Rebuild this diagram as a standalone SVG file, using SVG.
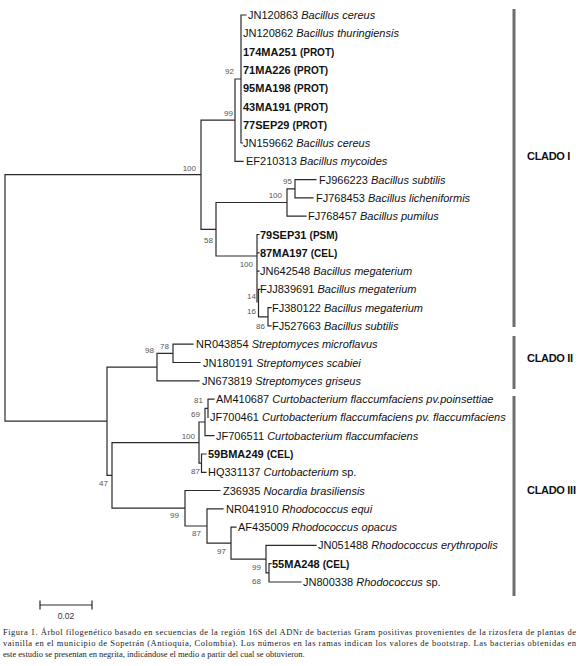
<svg xmlns="http://www.w3.org/2000/svg" width="579" height="666" viewBox="0 0 579 666">
<style>
.br{fill:none;stroke:#2a2a2a;stroke-width:1.2;stroke-linecap:square}
.t{font-family:"Liberation Sans",Arial,sans-serif;font-size:11px;fill:#111}
.i{font-style:italic}
.b{font-weight:bold}
.p{font-weight:bold;font-size:10px}
.bs{font-family:"Liberation Sans",Arial,sans-serif;font-size:8px;fill:#555;text-anchor:end}
.bar{stroke:#6e6e6e;stroke-width:3}
.cl{font-family:"Liberation Sans",Arial,sans-serif;font-size:11px;font-weight:bold;letter-spacing:-0.3px;fill:#111}
.cap{font-family:"Liberation Serif","Times New Roman",serif;font-size:8.5px;fill:#222}
</style>
<rect width="579" height="666" fill="#fff"/>
<g id="connectors">
<path class="br" d="M5,174.7V421.2M5,174.7H201M5,421.2H107
M201,120.2V229.3M201,120.2H235M201,229.3H216
M235,79V161.3M235,79H241M235,161.3H243
M241,15V143M241,15H246M241,143H242.5
M216,202.5V256M216,202.5H287M216,256H257
M287,188.8V216.2M287,188.8H295M287,216.2H306
M295,179.6V197.9M295,179.6H316M295,197.9H313
M257,234.5V302M257,234.5H259M257,252.8H259M257,271.1H259
M258.5,289.4V316.8M258.5,289.4H260M258.5,316.8H268
M268,307.6V325.9M268,307.6H271M268,325.9H271
M107,367.1V475.4M107,367.1H157M107,475.4H112
M157,353.4V380.8M157,353.4H173M157,380.8H199
M173,344.2V362.5M173,344.2H193M173,362.5H200
M112,442.6V508.2M112,442.6H199M112,508.2H185
M199,422V463.2M199,422H205M199,463.2H201.5
M205,408.3V435.7M205,408.3H208M205,435.7H214
M208,399.1V417.4M208,399.1H214
M201.5,454V472.3M201.5,454H206M201.5,472.3H206
M185,490.5V526M185,490.5H220M185,526H207
M207,508.8V543.1M207,508.8H223M207,543.1H231
M231,527.1V559.1M231,527.1H236M231,559.1H266
M266,545.4V572.8M266,545.4H316M266,572.8H269
M269,563.7V582M269,563.7H271M269,582H301"/>
</g>
<g id="bootstrap">
<text class="bs" x="196" y="171">100</text>
<text class="bs" x="233" y="116">99</text>
<text class="bs" x="234" y="74">92</text>
<text class="bs" x="292" y="184">95</text>
<text class="bs" x="282" y="198">100</text>
<text class="bs" x="213" y="243">58</text>
<text class="bs" x="253" y="267">100</text>
<text class="bs" x="256" y="299">14</text>
<text class="bs" x="256" y="314">16</text>
<text class="bs" x="265" y="329">86</text>
<text class="bs" x="154" y="353">98</text>
<text class="bs" x="169" y="349">78</text>
<text class="bs" x="203" y="403">81</text>
<text class="bs" x="200" y="417">69</text>
<text class="bs" x="195" y="439">100</text>
<text class="bs" x="200" y="474">87</text>
<text class="bs" x="108" y="486">47</text>
<text class="bs" x="179" y="518">99</text>
<text class="bs" x="201" y="536">87</text>
<text class="bs" x="226" y="554">97</text>
<text class="bs" x="261" y="570">99</text>
<text class="bs" x="261" y="584">68</text>
</g>
<g id="leaf-JN120863"><text class="t" x="248" y="19">JN120863 <tspan class="i">Bacillus cereus</tspan></text></g>
<g id="leaf-JN120862"><text class="t" x="243" y="37.3">JN120862 <tspan class="i">Bacillus thuringiensis</tspan></text></g>
<g id="leaf-174MA251"><text class="t" x="243" y="55.6"><tspan class="b">174MA251</tspan> <tspan class="p">(PROT)</tspan></text></g>
<g id="leaf-71MA226"><text class="t" x="243" y="73.9"><tspan class="b">71MA226</tspan> <tspan class="p">(PROT)</tspan></text></g>
<g id="leaf-95MA198"><text class="t" x="243" y="92.2"><tspan class="b">95MA198</tspan> <tspan class="p">(PROT)</tspan></text></g>
<g id="leaf-43MA191"><text class="t" x="243" y="110.5"><tspan class="b">43MA191</tspan> <tspan class="p">(PROT)</tspan></text></g>
<g id="leaf-77SEP29"><text class="t" x="243" y="128.7"><tspan class="b">77SEP29</tspan> <tspan class="p">(PROT)</tspan></text></g>
<g id="leaf-JN159662"><text class="t" x="243" y="147">JN159662 <tspan class="i">Bacillus cereus</tspan></text></g>
<g id="leaf-EF210313"><text class="t" x="246" y="165.3">EF210313 <tspan class="i">Bacillus mycoides</tspan></text></g>
<g id="leaf-FJ966223"><text class="t" x="319" y="183.6">FJ966223 <tspan class="i">Bacillus subtilis</tspan></text></g>
<g id="leaf-FJ768453"><text class="t" x="316" y="201.9">FJ768453 <tspan class="i">Bacillus licheniformis</tspan></text></g>
<g id="leaf-FJ768457"><text class="t" x="308" y="220.2">FJ768457 <tspan class="i">Bacillus pumilus</tspan></text></g>
<g id="leaf-79SEP31"><text class="t" x="260" y="238.5"><tspan class="b">79SEP31</tspan> <tspan class="p">(PSM)</tspan></text></g>
<g id="leaf-87MA197"><text class="t" x="260" y="256.8"><tspan class="b">87MA197</tspan> <tspan class="p">(CEL)</tspan></text></g>
<g id="leaf-JN642548"><text class="t" x="260" y="275.1">JN642548 <tspan class="i">Bacillus megaterium</tspan></text></g>
<g id="leaf-FJJ839691"><text class="t" x="260" y="293.4">FJJ839691 <tspan class="i">Bacillus megaterium</tspan></text></g>
<g id="leaf-FJ380122"><text class="t" x="272" y="311.6">FJ380122 <tspan class="i">Bacillus megaterium</tspan></text></g>
<g id="leaf-FJ527663"><text class="t" x="272" y="329.9">FJ527663 <tspan class="i">Bacillus subtilis</tspan></text></g>
<g id="leaf-NR043854"><text class="t" x="196" y="348.2">NR043854 <tspan class="i">Streptomyces microflavus</tspan></text></g>
<g id="leaf-JN180191"><text class="t" x="203" y="366.5">JN180191 <tspan class="i">Streptomyces scabiei</tspan></text></g>
<g id="leaf-JN673819"><text class="t" x="202" y="384.8">JN673819 <tspan class="i">Streptomyces  griseus</tspan></text></g>
<g id="leaf-AM410687"><text class="t" x="216" y="403.1">AM410687 <tspan class="i">Curtobacterium flaccumfaciens pv.poinsettiae</tspan></text></g>
<g id="leaf-JF700461"><text class="t" x="210" y="421.4">JF700461 <tspan class="i">Curtobacterium  flaccumfaciens pv. flaccumfaciens</tspan></text></g>
<g id="leaf-JF706511"><text class="t" x="216" y="439.7">JF706511 <tspan class="i">Curtobacterium flaccumfaciens</tspan></text></g>
<g id="leaf-59BMA249"><text class="t" x="208" y="458"><tspan class="b">59BMA249</tspan> <tspan class="p">(CEL)</tspan></text></g>
<g id="leaf-HQ331137"><text class="t" x="208" y="476.3">HQ331137 <tspan class="i">Curtobacterium</tspan> sp.</text></g>
<g id="leaf-Z36935"><text class="t" x="223" y="494.5">Z36935 <tspan class="i">Nocardia brasiliensis</tspan></text></g>
<g id="leaf-NR041910"><text class="t" x="226" y="512.8">NR041910 <tspan class="i">Rhodococcus equi</tspan></text></g>
<g id="leaf-AF435009"><text class="t" x="238" y="531.1">AF435009 <tspan class="i">Rhodococcus opacus</tspan></text></g>
<g id="leaf-JN051488"><text class="t" x="318" y="549.4">JN051488 <tspan class="i">Rhodococcus erythropolis</tspan></text></g>
<g id="leaf-55MA248"><text class="t" x="272" y="567.7"><tspan class="b">55MA248</tspan> <tspan class="p">(CEL)</tspan></text></g>
<g id="leaf-JN800338"><text class="t" x="303" y="586">JN800338 <tspan class="i">Rhodococcus</tspan> sp.</text></g>
<g id="clado-I"><line class="bar" x1="514" y1="9" x2="514" y2="327"/><text class="cl" x="527" y="160">CLADO I</text></g>
<g id="clado-II"><line class="bar" x1="514" y1="336" x2="514" y2="389"/><text class="cl" x="527" y="362">CLADO II</text></g>
<g id="clado-III"><line class="bar" x1="514" y1="396" x2="514" y2="596"/><text class="cl" x="527" y="494">CLADO III</text></g>
<g id="scale-bar">
<path class="br" d="M40,605H92M40,601V609M92,601V609"/>
<text x="66" y="619" text-anchor="middle" font-family="Liberation Sans, Arial, sans-serif" font-size="8.5" fill="#333">0.02</text>
</g>
<g id="caption">
<text class="cap" x="3" y="635" textLength="573" lengthAdjust="spacing">Figura 1. Árbol filogenético basado en secuencias de la región 16S del ADNr de bacterias Gram positivas provenientes de la rizosfera de plantas de</text>
<text class="cap" x="3" y="645.8" textLength="573" lengthAdjust="spacing">vainilla en el municipio de Sopetrán (Antioquia, Colombia). Los números en las ramas indican los valores de bootstrap. Las bacterias obtenidas en</text>
<text class="cap" x="3" y="656.6">este estudio se presentan en negrita, indicándose el medio a partir del cual se obtuvieron.</text>
</g>
</svg>
